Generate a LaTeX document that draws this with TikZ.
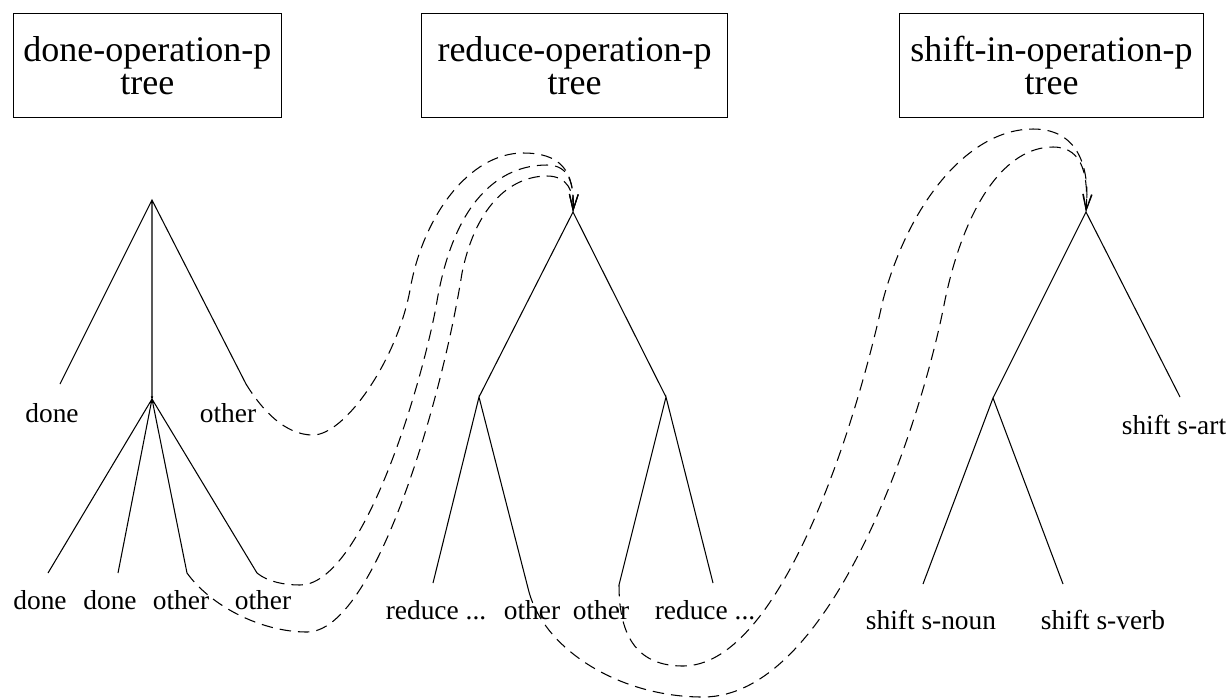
\documentclass[tikz,border=0pt]{standalone}
\usepackage{fontspec}
\setmainfont{Liberation Serif}
\usetikzlibrary{
    arrows.meta,
    positioning
}
\tikzset{
    titlebox/.style={draw, line width=0.6pt, anchor=north west, minimum height=2.09cm, inner sep=0pt, align=center, font=\fontsize{20.5}{18.5}\selectfont},
    leaf/.style={inner sep=0pt, font=\fontsize{15.6}{18}\selectfont},
    branch/.style={line width=0.6pt},
    link/.style={line width=0.6pt, dash pattern=on 6.5pt off 4pt, -{Straight Barb[length=9pt,width=5pt]}}
}

\begin{document}
\begin{tikzpicture}[x=0.02cm, y=-0.02cm]
                        \useasboundingbox (0,0) rectangle (1230,698);
                        \node[titlebox, minimum width=5.37cm] (bdone) at (12.7,12.7) {done-operation-p\\tree};
                        \node[titlebox, minimum width=6.12cm] (breduce) at (421,12.7) {reduce-operation-p\\tree};
                        \node[titlebox, minimum width=6.08cm] (bshift) at (899,12.7) {shift-in-operation-p\\tree};
                        \begin{scope}
                            \coordinate (d0) at (152,200);
                            \coordinate (d1) at (60,384);
                            \coordinate (d2) at (152,399);
                            \coordinate (d3) at (246,384);
                            \coordinate (d21) at (48,573);
                            \coordinate (d22) at (118,573);
                            \coordinate (d23) at (187,573);
                            \coordinate (d24) at (257,573);
                            \node[leaf] (ld1) at (52,413) {done};
                            \node[leaf] (ld3) at (228,413) {other};
                            \node[leaf] (ld21) at (40,600) {done};
                            \node[leaf] (ld22) at (110,600) {done};
                            \node[leaf] (ld23) at (181,600) {other};
                            \node[leaf] (ld24) at (263,600) {other};
                            \draw[branch]
                            (d1) -- (d0) -- (d3)
                            (d0) -- (d2)
                            (d21) -- (d2) -- (d22)
                            (d23) -- (d2) -- (d24);
                        \end{scope}
                        \begin{scope}
                            \coordinate (r0) at (573,212);
                            \coordinate (r1) at (479,397);
                            \coordinate (r2) at (666,397);
                            \coordinate (r11) at (433,583);
                            \coordinate (r12) at (529,592);
                            \coordinate (r21) at (619,585);
                            \coordinate (r22) at (713,583);
                            \node[leaf] (lr11) at (436,610) {reduce ...};
                            \node[leaf] (lr12) at (532,610) {other};
                            \node[leaf] (lr21) at (601,610) {other};
                            \node[leaf] (lr22) at (705,610) {reduce ...};
                            \draw[branch]
                            (r1) -- (r0) -- (r2)
                            (r11) -- (r1) -- (r12)
                            (r21) -- (r2) -- (r22);
                        \end{scope}
                        \begin{scope}
                            \coordinate (s0) at (1086,212);
                            \coordinate (s1) at (993,398);
                            \coordinate (s2) at (1180,397);
                            \coordinate (s11) at (923,584);
                            \coordinate (s12) at (1063,584);
                            \node[leaf] (ls2) at (1174,425) {shift s-art};
                            \node[leaf] (ls11) at (931,620) {shift s-noun};
                            \node[leaf] (ls12) at (1103,620) {shift s-verb};
                            \draw[branch]
                            (s1) -- (s0) -- (s2)
                            (s11) -- (s1) -- (s12);
                        \end{scope}
                        \draw[link] (d3) .. controls (262,410) and (285,435) .. (313,435) .. controls (345,435) and (397,360) .. (410,290) .. controls (423,215) and (470,153) .. (523,153) .. controls (560,153) and (575,170) .. (r0);
                        \draw[link] (d24) .. controls (268,582) and (285,585) .. (300,585) .. controls (360,585) and (418,400) .. (436,307) .. controls (453,200) and (500,165) .. (547,165) .. controls (570,165) and (574,185) .. (r0);
                        \draw[link] (d23) .. controls (210,605) and (260,632) .. (307,632) .. controls (375,632) and (442,400) .. (462,273) .. controls (477,200) and (515,176) .. (547,176) .. controls (568,176) and (574,192) .. (r0);
                        \draw[link] (r21) .. controls (619,640) and (640,666) .. (683,666) .. controls (775,666) and (850,450) .. (883,300) .. controls (910,200) and (970,129) .. (1033,129) .. controls (1080,129) and (1090,170) .. (s0);
                        \draw[link] (r12) .. controls (545,650) and (620,697) .. (703,697) .. controls (830,697) and (920,430) .. (945,300) .. controls (965,205) and (1005,147) .. (1053,147) .. controls (1085,147) and (1088,180) .. (s0);
                    \end{tikzpicture}
\end{document}
